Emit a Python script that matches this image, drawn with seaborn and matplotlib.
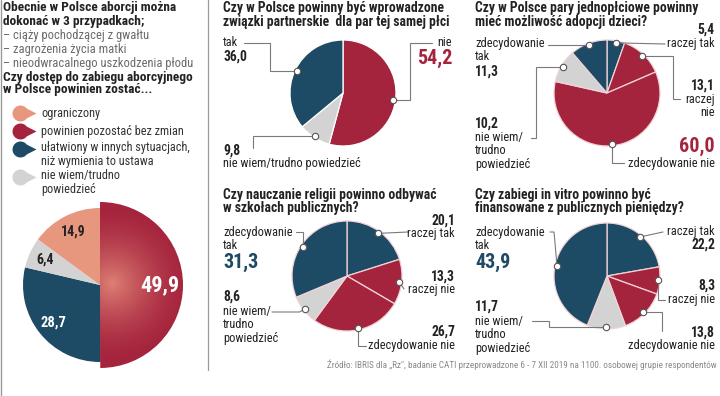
import matplotlib
matplotlib.use('Agg')
import numpy as np
import matplotlib.pyplot as plt
import seaborn as sns
from matplotlib import font_manager
from matplotlib.path import Path
from matplotlib.colors import to_rgb

sns.set_theme(style='white')
names = {f.name for f in font_manager.fontManager.ttflist}
narrow = next((n for n in ['Liberation Sans Narrow', 'Roboto Condensed', 'DejaVu Sans'] if n in names), 'DejaVu Sans')
plt.rcParams['font.family'] = [narrow, 'DejaVu Sans']

# --- data ---
abort_labels = ['powinien pozostać bez zmian', 'ułatwiony w innych sytuacjach,\nniż wymienia to ustawa',
                'nie wiem/trudno\npowiedzieć', 'ograniczony']
abort_values = [49.9, 28.7, 6.4, 14.9]

union_labels = ['nie', 'nie wiem/trudno powiedzieć', 'tak']
union_values = [54.2, 9.8, 36.0]

adopt_labels = ['raczej tak', 'raczej\nnie', 'zdecydowanie nie', 'nie wiem/\ntrudno\npowiedzieć', 'zdecydowanie\ntak']
adopt_values = [5.4, 13.1, 60.0, 10.2, 11.3]

relig_labels = ['raczej tak', 'raczej nie', 'zdecydowanie nie', 'nie wiem/\ntrudno\npowiedzieć', 'zdecydowanie\ntak']
relig_values = [20.1, 13.3, 26.7, 8.6, 31.3]

vitro_labels = ['raczej tak', 'raczej nie', 'zdecydowanie nie', 'nie wiem/\ntrudno\npowiedzieć', 'zdecydowanie\ntak']
vitro_values = [22.2, 8.3, 13.8, 11.7, 43.9]

BLUE = '#1d4a65'
RED = '#a5243d'
GRAY = '#d3d3d3'
SALMON = '#e8977f'
INK = '#222222'
LINE = '#7a7a7a'
LAB = 8.9    # label size
NUM = 9.8    # bold number size
BIG = 14.5   # highlighted number size
TIT = 9.8    # title size

W, H = 720, 396
fig = plt.figure(figsize=(7.2, 3.96), dpi=100)
canvas = fig.add_axes([0, 0, 1, 1])
canvas.set_xlim(0, W)
canvas.set_ylim(H, 0)
canvas.axis('off')
canvas.set_zorder(10)


def fmt(v):
    return f'{v:.1f}'.replace('.', ',')


def txt(x, y, s, size=LAB, weight='normal', color=INK, ha='left', ls=1.08):
    canvas.text(x, y, s, fontsize=size, fontweight=weight, color=color, ha=ha, va='center',
                linespacing=ls)


def pie_axes(cx, cy, r):
    ax = fig.add_axes([(cx - r) / W, 1 - (cy + r) / H, 2 * r / W, 2 * r / H])
    return ax


def draw_pie(cx, cy, r, values, colors, edge='#f2d3d8'):
    ax = pie_axes(cx, cy, r)
    wedges, _ = ax.pie(values, colors=colors, startangle=90, counterclock=False, radius=1,
                       wedgeprops=dict(linewidth=0.9, edgecolor=edge))
    ax.set_xlim(-1, 1)
    ax.set_ylim(-1, 1)
    for w in wedges:
        w.set_clip_on(False)
    pts = []
    for w in wedges:
        a = np.radians((w.theta1 + w.theta2) / 2)
        pts.append((cx + 0.96 * r * np.cos(a), cy - 0.96 * r * np.sin(a)))
    return pts


def leader(p, path):
    xs = [p[0]] + [q[0] for q in path]
    ys = [p[1]] + [q[1] for q in path]
    canvas.plot(xs, ys, color=LINE, lw=0.8, solid_joinstyle='miter')
    canvas.plot(p[0], p[1], 'o', ms=4.6, mfc='white', mec='#555555', mew=0.8, zorder=12)


# --- left panel ---
txt(3, 8, 'Obecnie w Polsce aborcji można', 9.6, 'bold')
txt(3, 22, 'dokonać w 3 przypadkach;', 9.6, 'bold')
for i, s in enumerate(['– ciąży pochodzącej z gwałtu', '– zagrożenia życia matki',
                       '– nieodwracalnego uszkodzenia płodu']):
    txt(3, 36 + 13.5 * i, s, 9.0, color='#6a6a6a')
txt(3, 77, 'Czy dostęp do zabiegu aborcyjnego', 9.6, 'bold')
txt(3, 90, 'w Polsce powinien zostać...', 9.6, 'bold')

t = np.linspace(np.radians(38), np.radians(322), 40)
drop = np.column_stack([np.cos(t), np.sin(t)])
drop = np.vstack([drop, [2.0, 0.0], drop[:1]])
drop_marker = Path(drop)
abort_colors = [RED, BLUE, GRAY, SALMON]
legend_order = [3, 0, 1, 2]
legend_y = [113, 131, 149, 177]
for k, y in zip(legend_order, legend_y):
    canvas.plot(20, y, marker=drop_marker, ms=23, color=abort_colors[k], mec='none', zorder=12)
    txt(41, y + (5.5 if '\n' in abort_labels[k] else 0), abort_labels[k], 8.8, color='#333333', ls=1.2)

# big abortion pie: red slice drawn larger
acx, acy, R = 100, 285, 83
ax = pie_axes(acx, acy, R)
ax.pie(abort_values, colors=abort_colors, startangle=90, counterclock=False, radius=77 / R,
       wedgeprops=dict(linewidth=0))
big, _ = ax.pie(abort_values, colors=[RED, 'none', 'none', 'none'], startangle=90,
                counterclock=False, radius=1, wedgeprops=dict(linewidth=0))
ax.set_xlim(-1, 1)
ax.set_ylim(-1, 1)
gx, gy = np.meshgrid(np.linspace(-1, 1, 200), np.linspace(-1, 1, 200))
d = np.hypot(gx - 0.15, gy - 0.02)
img = np.zeros((200, 200, 4))
img[..., :3] = to_rgb('#e9907f')
img[..., 3] = np.clip(1 - d / 0.95, 0, 1) ** 1.6 * 0.85
im = ax.imshow(img, extent=(-1, 1, -1, 1), origin='lower', zorder=5)
im.set_clip_path(big[0])
ax.set_xlim(-1, 1)
ax.set_ylim(-1, 1)
label_style = [(16, 'white'), (10.5, 'white'), (10, INK), (10, INK)]
for w, v, (fs, c) in zip(ax.patches[:4], abort_values, label_style):
    a = np.radians((w.theta1 + w.theta2) / 2)
    rr = 0.78 * w.r * R
    txt(acx + rr * np.cos(a), acy - rr * np.sin(a), fmt(v), fs, 'bold', c, ha='center')

# separators
canvas.plot([1, 1], [0, H], color='#9a9a9a', lw=1.0)
canvas.plot([208, 208], [0, 370], color='#9a9a9a', lw=0.9)

# --- union pie ---
txt(223, 8, 'Czy w Polsce powinny być wprowadzone', TIT, 'bold')
txt(223, 22, 'związki partnerskie  dla par tej samej płci', TIT, 'bold')
p = draw_pie(343, 93, 53, union_values, [RED, GRAY, BLUE], edge='white')
txt(452, 43, union_labels[0], ha='right')
txt(452, 58, fmt(union_values[0]), BIG, 'bold', RED, ha='right')
leader(p[0], [(410, p[0][1]), (410, 43), (432, 43)])
txt(223, 43, union_labels[2])
txt(223, 57, fmt(union_values[2]), NUM, 'bold')
leader(p[2], [(270, p[2][1]), (270, 43), (244, 43)])
txt(223, 151, fmt(union_values[1]), NUM, 'bold')
txt(223, 164, union_labels[1])
leader(p[1], [(253, p[1][1]), (253, 148)])

# --- adoption pie ---
txt(475, 8, 'Czy w Polsce pary jednopłciowe powinny', TIT, 'bold')
txt(475, 22, 'mieć możliwość adopcji dzieci?', TIT, 'bold')
p = draw_pie(607, 93, 53, adopt_values, [BLUE, RED, RED, GRAY, BLUE])
txt(715, 30, fmt(adopt_values[0]), NUM, 'bold', ha='right')
txt(715, 43, adopt_labels[0], ha='right')
leader(p[0], [(665, 44)])
txt(715, 86, fmt(adopt_values[1]), NUM, 'bold', ha='right')
txt(715, 106, adopt_labels[1], ha='right')
leader(p[1], [(673, p[1][1]), (673, 99), (680, 99)])
txt(715, 146, fmt(adopt_values[2]), BIG, 'bold', RED, ha='right')
txt(715, 163, adopt_labels[2], ha='right')
leader(p[2], [(p[2][0], 163), (624, 163)])
txt(475, 124, fmt(adopt_values[3]), NUM, 'bold')
txt(475, 151, adopt_labels[3])
leader(p[3], [(536, p[3][1]), (536, 138), (531, 138)])
txt(475, 50, adopt_labels[4])
txt(475, 72, fmt(adopt_values[4]), NUM, 'bold')
leader(p[4], [(548, p[4][1])])

# --- religion pie ---
txt(223, 195, 'Czy nauczanie religii powinno odbywać', TIT, 'bold')
txt(223, 208, 'w szkołach publicznych?', TIT, 'bold')
p = draw_pie(347, 276, 55, relig_values, [BLUE, RED, RED, GRAY, BLUE])
txt(455, 221, fmt(relig_values[0]), NUM, 'bold', ha='right')
txt(455, 233, relig_labels[0], ha='right')
leader(p[0], [(408, 232)])
txt(455, 277, fmt(relig_values[1]), NUM, 'bold', ha='right')
txt(455, 289, relig_labels[1], ha='right')
leader(p[1], [(404, 289)])
txt(455, 332, fmt(relig_values[2]), NUM, 'bold', ha='right')
txt(455, 346, relig_labels[2], ha='right')
leader(p[2], [(p[2][0], 346), (366, 346)])
txt(223, 297, fmt(relig_values[3]), NUM, 'bold')
txt(223, 325, relig_labels[3])
leader(p[3], [(p[3][0] - 6, 312), (272, 312)])
txt(223, 239, relig_labels[4])
txt(223, 262, fmt(relig_values[4]), BIG, 'bold', BLUE)
leader(p[4], [(p[4][0], 232), (296, 232)])

# --- in vitro pie ---
txt(475, 195, 'Czy zabiegi in vitro powinno być', TIT, 'bold')
txt(475, 208, 'finansowane z publicznych pieniędzy?', TIT, 'bold')
p = draw_pie(607, 276, 53, vitro_values, [BLUE, RED, RED, GRAY, BLUE])
txt(715, 232, vitro_labels[0], ha='right')
txt(715, 245, fmt(vitro_values[0]), NUM, 'bold', ha='right')
leader(p[0], [(663, 232)])
txt(715, 286, fmt(vitro_values[1]), NUM, 'bold', ha='right')
txt(715, 300, vitro_labels[1], ha='right')
leader(p[1], [(p[1][0], 300), (665, 300)])
txt(715, 333, fmt(vitro_values[2]), NUM, 'bold', ha='right')
txt(715, 346, vitro_labels[2], ha='right')
leader(p[2], [(662, p[2][1]), (662, 331)])
txt(475, 307, fmt(vitro_values[3]), NUM, 'bold')
txt(475, 335, vitro_labels[3])
leader(p[3], [(549, p[3][1]), (549, 321), (532, 321)])
txt(475, 239, vitro_labels[4])
txt(475, 262, fmt(vitro_values[4]), BIG, 'bold', BLUE)
leader(p[4], [(p[4][0] - 3, 232), (550, 232)])

canvas.text(717, 365, 'Źródło: IBRIS dla „Rz", badanie CATI przeprowadzone 6 - 7 XII 2019 na 1100. '
            'osobowej grupie respondentów', fontsize=6.6, color='#8a8a8a', ha='right', va='center')

fig.savefig('out.png', dpi=100)
